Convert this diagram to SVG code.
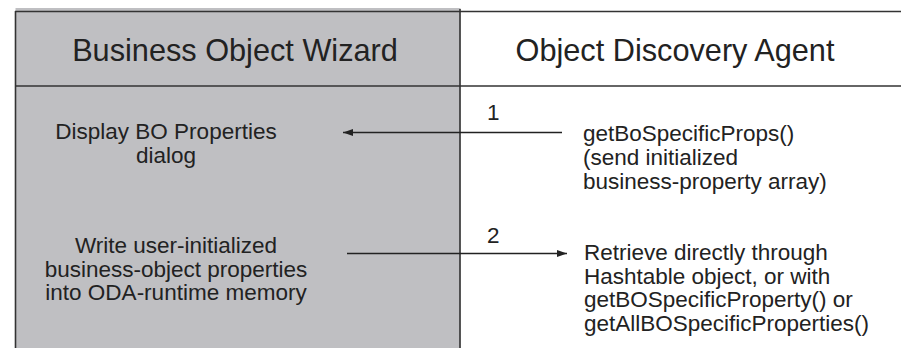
<svg xmlns="http://www.w3.org/2000/svg" width="901" height="348" viewBox="0 0 901 348">
  <style>
    .frame { stroke: #333; stroke-width: 1.6; fill: none; }
    .head { font-family: "Liberation Sans", Arial, sans-serif; font-size: 30.7px; fill: #222; }
    .txt { font-family: "Liberation Sans", Arial, sans-serif; font-size: 22.5px; fill: #222; }
    .conn { stroke: #222; stroke-width: 1.4; fill: none; }
  </style>
  <defs>
    <marker id="arrow" markerWidth="10" markerHeight="8" refX="10" refY="4" orient="auto" markerUnits="userSpaceOnUse">
      <path d="M0,0.5 L10,4 L0,7.5 Z" fill="#222"/>
    </marker>
  </defs>
  <rect x="0" y="0" width="901" height="348" fill="#ffffff"/>
  <g id="bo-wizard-lane">
    <rect x="15.5" y="8" width="445" height="340" fill="#bfbfc2"/>
  </g>
  <g id="table-frame">
    <line class="frame" x1="15" y1="11.5" x2="901" y2="11.5"/>
    <line class="frame" x1="15.5" y1="11" x2="15.5" y2="348"/>
    <line class="frame" x1="460" y1="9" x2="460" y2="348"/>
    <line class="frame" x1="15" y1="86" x2="901" y2="86"/>
  </g>
  <g id="header-wizard">
    <text class="head" x="235" y="61" text-anchor="middle">Business Object Wizard</text>
  </g>
  <g id="header-oda">
    <text class="head" x="675" y="61" text-anchor="middle">Object Discovery Agent</text>
  </g>
  <g id="node-display">
    <text class="txt" text-anchor="middle"><tspan x="166" y="139">Display BO Properties</tspan><tspan x="166" y="163">dialog</tspan></text>
  </g>
  <g id="node-write">
    <text class="txt" text-anchor="middle"><tspan x="176" y="253">Write user-initialized</tspan><tspan x="176" y="276.5">business-object properties</tspan><tspan x="176" y="300">into ODA-runtime memory</tspan></text>
  </g>
  <g id="node-getprops">
    <text class="txt"><tspan x="583" y="141">getBoSpecificProps()</tspan><tspan x="583" y="165">(send initialized</tspan><tspan x="583" y="189">business-property array)</tspan></text>
  </g>
  <g id="node-retrieve">
    <text class="txt"><tspan x="584" y="260">Retrieve directly through</tspan><tspan x="584" y="283.5">Hashtable object, or with</tspan><tspan x="584" y="307">getBOSpecificProperty() or</tspan><tspan x="584" y="330.5">getAllBOSpecificProperties()</tspan></text>
  </g>
  <g id="connectors">
    <line class="conn" x1="562" y1="132.5" x2="343" y2="132.5" marker-end="url(#arrow)"/>
    <text class="txt" x="487" y="120">1</text>
    <line class="conn" x1="347" y1="253.5" x2="567" y2="253.5" marker-end="url(#arrow)"/>
    <text class="txt" x="487" y="243">2</text>
  </g>
</svg>
